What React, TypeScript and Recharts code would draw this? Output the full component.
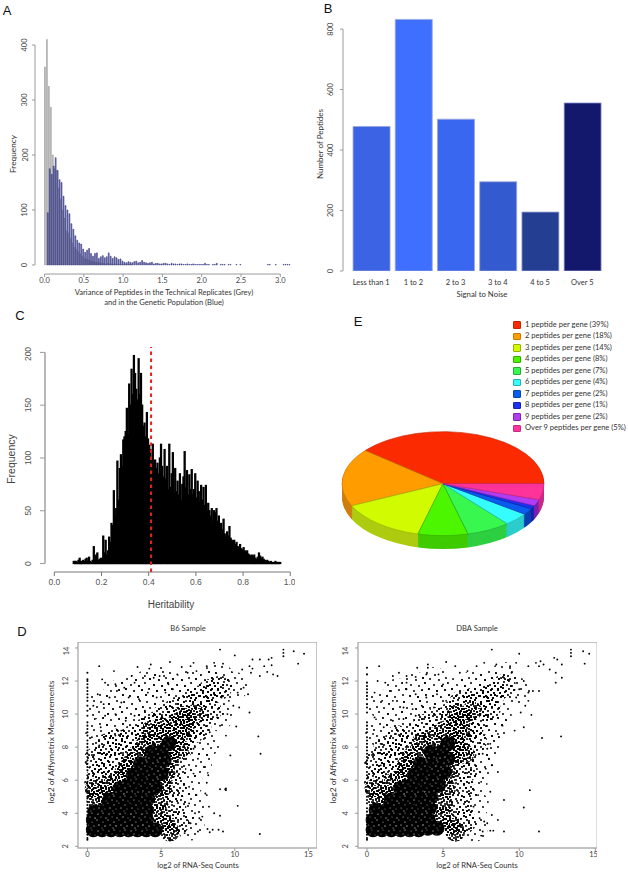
import {
  Bar,
  BarChart,
  Cell,
  Pie,
  PieChart,
  ReferenceArea,
  ReferenceLine,
  Scatter,
  ScatterChart,
  XAxis,
  YAxis,
} from "recharts";

// Panel A: histogram counts, bin width 0.025
const A_BIN = 0.025;
const A_GREY = [
  360, 410, 325, 287, 200, 175, 172, 140, 120, 100, 85, 62, 58, 48, 40, 32, 28, 24, 20, 16, 12, 11, 9, 8, 7, 6, 5, 5, 4,
  3, 3, 2, 3, 2, 2, 1, 2, 1, 1, 1, 1, 1, 1, 1, 1,
];
const A_BLUE = [
  0, 95, 175, 165, 180, 195, 172, 155, 150, 125, 108, 100, 93, 75, 65, 53, 45, 40, 38, 29, 23, 27, 30, 21, 16, 21, 22,
  12, 15, 17, 13, 15, 22, 16, 12, 15, 13, 10, 11, 7, 5, 4, 6, 5, 4, 6, 7, 4, 5, 8, 5, 4, 3, 4, 5, 2, 3, 3, 2, 2, 3, 3,
  2, 1, 3, 2, 2, 1, 2, 2, 1, 1, 2, 1, 1, 2, 1, 1, 1, 1, 1, 3, 1, 1, 0, 1, 1, 3, 0, 1, 1, 1, 0, 1, 1, 0, 0, 1, 0, 1, 0,
  0, 0, 0, 0, 0, 0, 0, 0, 0, 0, 0, 0, 1, 1, 0, 0, 1, 0, 0, 0, 1, 1, 1, 1,
];
const A_X_TICKS = [0, 0.5, 1, 1.5, 2, 2.5, 3];
const A_Y_TICKS = [0, 100, 200, 300, 400];

// Panel B
const B_CATEGORIES = ["Less than 1", "1 to 2", "2 to 3", "3 to 4", "4 to 5", "Over 5"];
const B_VALUES = [478, 832, 502, 295, 195, 556];
const B_COLORS = ["#3b63e3", "#3f6ffe", "#3a67f0", "#345ad0", "#243f92", "#14186c"];
const B_Y_TICKS = [0, 200, 400, 600, 800];

// Panel C: histogram counts, bin width 0.005 starting at 0.08
const C_START = 0.08;
const C_BIN = 0.005;
const C_COUNTS = [
  2, 2, 2, 1, 3, 5, 2, 1, 3, 2, 4, 5, 2, 6, 2, 1, 3, 16, 3, 8, 10, 3, 4, 5, 4, 26, 10, 22, 8, 12, 25, 20, 38, 36, 69,
  45, 52, 97, 60, 90, 103, 92, 117, 120, 125, 147, 122, 170, 150, 184, 160, 197, 180, 165, 155, 194, 160, 180, 150, 130,
  133, 120, 143, 118, 112, 108, 100, 113, 95, 98, 90, 95, 85, 100, 113, 92, 82, 108, 80, 92, 70, 113, 72, 85, 105, 66,
  90, 68, 78, 65, 85, 60, 75, 82, 106, 72, 88, 65, 84, 70, 89, 65, 70, 85, 62, 78, 68, 58, 74, 60, 72, 55, 74, 50, 57,
  50, 45, 52, 40, 50, 48, 52, 40, 45, 36, 38, 32, 42, 28, 25, 30, 26, 35, 24, 22, 20, 22, 18, 20, 16, 15, 18, 14, 13,
  15, 12, 10, 12, 9, 8, 7, 8, 6, 8, 5, 4, 6, 10, 7, 5, 6, 4, 3, 2, 3, 2, 1, 2, 1, 1, 1, 2, 1, 1, 1, 1,
];
const C_MEAN = 0.41;
const C_X_TICKS = [0, 0.2, 0.4, 0.6, 0.8, 1];
const C_Y_TICKS = [0, 50, 100, 150, 200];

// Panel D: log2 counts vs log2 array. Core/dense/light/faint are read-off density regions,
// sparse are the single points that can be picked out.
const D_X_TICKS = [0, 5, 10, 15];
const D_Y_TICKS = [2, 4, 6, 8, 10, 12, 14];
const B6_ZERO_Y = [
  2.4, 2.5, 2.7, 2.9, 3.1, 3.3, 3.5, 3.7, 3.9, 4.1, 4.3, 4.5, 4.7, 4.9, 5.0, 5.3, 5.5, 5.7, 5.9, 6.1, 6.3, 6.6, 6.8,
  7.0, 7.2, 7.4, 7.6, 7.8, 8.0, 8.2, 8.4, 8.7, 8.9, 9.1, 9.3, 9.5, 9.9, 10.2, 10.5, 10.8, 11.0, 11.2, 11.4, 11.6, 11.8,
  12.0, 12.1, 12.5,
];
const B6_CORE = [
  [0.4, 3], [1, 3], [1.6, 3], [2.2, 3], [2.8, 3], [3.4, 3], [4, 3], [4.6, 3],
  [0.4, 3.6], [1, 3.6], [1.6, 3.6], [2.2, 3.6], [2.8, 3.6], [3.4, 3.6], [4, 3.6],
  [0.5, 4.1], [1.2, 4.2], [1.9, 4.2], [2.6, 4.2], [3.3, 4.2], [4, 4.2],
  [1.5, 4.8], [2.1, 4.9], [2.7, 4.9], [3.4, 4.9], [4.1, 4.9], [2.2, 5.5], [2.7, 5.6], [3.4, 5.6], [4.1, 5.6], [4.6, 5.6],
  [3.1, 6.3], [3.8, 6.3], [4.5, 6.3], [5, 6.4], [3.6, 7], [4.2, 7], [4.8, 7], [5.2, 7.2], [4.4, 7.7], [5, 7.7], [5.5, 8.2],
];
const B6_DENSE = [
  [0.6, 4.9], [1.3, 5], [1.4, 5.7], [2.1, 5.9], [2.7, 6.7], [3.3, 7.5], [3.9, 8.1], [4.6, 8.4], [5.3, 8.8], [5.9, 9.3],
  [6.7, 9.7], [7.3, 10], [5.6, 8], [5.5, 7.2], [5.3, 6.4], [5.1, 5.6], [4.9, 4.8], [4.8, 4], [5.3, 3.4], [5.6, 2.9],
  [6.2, 8.7], [6.6, 9.2], [3, 7], [2.4, 6.3], [0.5, 5.5], [6.2, 7.8], [6.4, 9.9], [5, 9.2], [4.3, 9],
];
const B6_LIGHT = [
  [0.6, 6], [1.1, 6.6], [1.7, 7.1], [2.4, 7.9], [3, 8.6], [3.8, 9], [4.5, 9.4], [5.2, 9.9], [6, 10.3], [6.9, 10.7],
  [7.6, 11], [8.3, 11.4], [9, 11.6], [6.3, 7.9], [6.6, 8.4], [7.1, 8.9], [7.6, 9.3], [8.3, 10.2], [5.9, 6.7], [5.9, 5.5],
  [5.9, 4.4], [6.1, 3.4], [0.6, 7.3], [1.3, 8.1], [2, 8.4],
];
const B6_FAINT = [
  [0.8, 8.8], [1.9, 9.5], [3, 10], [4, 10.5], [5, 11], [6, 11.5], [7, 11.8], [0.9, 10.5], [2, 11.2], [3, 11.5], [4, 11.8],
  [5, 12], [8, 12], [9, 12.2], [10, 11.7], [8.6, 10.6], [8.9, 9.8], [8, 8.2], [7.5, 7], [6.9, 5.8], [7, 4.5], [7, 3.2],
];
const B6_SPARSE = [
  [13.3, 13.9], [13.3, 13.7], [13.3, 13.5], [14, 13.8], [14.7, 13.65], [14.3, 13.05], [9, 13.9], [10, 13.55], [0.8, 12.9],
  [1.8, 12.6], [3.4, 12.85], [4.3, 13], [4.2, 12.75], [5.6, 13.15], [6.4, 12.85], [7, 12.9], [7.2, 13.1], [8.1, 12.9],
  [8.6, 13.1], [9.2, 13.05], [10.5, 12.7], [11, 12.9], [11.2, 12.75], [11.1, 12.5], [11.2, 13.3], [11.7, 13.3], [12, 12.9],
  [12.3, 13.3], [12.5, 13.4], [12.5, 12.95], [12.2, 12.55], [12.6, 12.4], [12.9, 12.3], [11.7, 12.3], [1, 12.1], [1.2, 11.9],
  [1.9, 11.8], [2, 11.4], [2.5, 11.6], [3, 12.3], [3.2, 11.9], [3.9, 12.3], [4.5, 12.2], [4.9, 12.3], [5.2, 12.3], [5.5, 11.8],
  [6.1, 12.4], [6.8, 12.5], [7.4, 12.6], [0.4, 10.5], [0.7, 11.2], [1.1, 10.6], [1.5, 11], [2.3, 10.7], [2.8, 11], [3.5, 10.9],
  [4.1, 11.3], [4.7, 11], [5.3, 11.3], [5.8, 11.5], [0.5, 9.7], [0.9, 9.2], [1.2, 9.9], [1.9, 10], [2.6, 9.6], [3.2, 9.9],
  [3.9, 10.2], [0.3, 8.6], [0.8, 8.1], [1.9, 8.7], [2.3, 9], [0.4, 7.4], [8.1, 11.7], [8.6, 11.2], [9.1, 11], [9.6, 10.8], [9.9, 10.5],
  [10.2, 11.3], [10.6, 11.6], [10.9, 11.2], [10.3, 10.4], [11, 10.1], [9.5, 10], [8.8, 9.8], [9, 9.3], [8.3, 8.9], [7.9, 8.5],
  [7.2, 7.9], [7.5, 7.3], [7.9, 6.8], [8.2, 6.3], [7.2, 6.4], [6.9, 5.6], [7.4, 5.1], [6.9, 4.6], [7.3, 4], [6.6, 2.8],
  [7.5, 2.9], [7, 3.4], [11.6, 8.65], [11.75, 7.6], [9.7, 7.5], [10.1, 9.25], [9.4, 8.7], [10.2, 4.45], [11.7, 2.75],
  [9.35, 5.45], [9.4, 5.5], [9.4, 5.4], [9, 5.45], [9, 3.85], [8.6, 4], [8.25, 4.4], [8.1, 5.85], [8, 5.2], [8.1, 5.1],
  [8.15, 3.05], [8.5, 3], [8.9, 3], [9.2, 2.9], [8.3, 2.85], [7.6, 3.7], [7.8, 3.8],
];

const DBA_ZERO_Y = [
  2.4, 2.5, 2.7, 2.9, 3.1, 3.3, 3.5, 3.7, 3.9, 4.1, 4.3, 4.6, 4.8, 5.0, 5.3, 5.6, 5.8, 6.1, 6.3, 6.5, 6.8, 7.0, 7.2,
  7.4, 7.6, 7.8, 8.0, 8.2, 8.4, 8.6, 8.9, 9.1, 9.3, 9.5, 10.1, 10.4, 10.6, 10.9, 11.1, 11.3, 11.5, 11.7, 11.9, 12.4, 12.8,
];
const DBA_CORE = [
  [0.4, 3], [1, 3], [1.6, 3], [2.2, 3], [2.8, 3], [3.4, 3], [4, 3.1], [4.6, 3.1],
  [0.4, 3.6], [1, 3.6], [1.6, 3.6], [2.2, 3.6], [2.8, 3.6], [3.4, 3.6], [4, 3.7],
  [0.6, 4.2], [1.3, 4.2], [2, 4.2], [2.7, 4.2], [3.4, 4.2], [4.1, 4.3],
  [1.6, 4.8], [2.2, 4.9], [2.8, 4.9], [3.5, 4.9], [4.2, 5], [2.2, 5.5], [2.7, 5.6], [3.4, 5.6], [4.1, 5.7], [4.7, 5.7],
  [3.1, 6.3], [3.8, 6.3], [4.5, 6.4], [5.1, 6.5], [3.5, 7], [4.2, 7], [4.9, 7], [5.3, 7.3], [4.2, 7.7], [4.9, 7.7], [5.3, 8.2],
];
const DBA_DENSE = [
  [0.7, 4.8], [1.4, 5], [1.6, 5.8], [2.2, 6.1], [2.6, 6.9], [3.1, 7.6], [3.6, 8.3], [4.4, 8.6], [5.1, 9], [5.8, 9.3],
  [6.3, 9.8], [6.9, 10.2], [5.7, 8.4], [5.6, 7.4], [5.3, 6.4], [5.2, 5.5], [5, 4.6], [5, 3.8], [5.5, 3.3], [5.8, 2.9],
  [6.2, 8.9], [5.9, 8], [3, 7], [2.5, 6.4], [0.5, 5.5], [6.4, 7.6], [5.9, 10],
];
const DBA_LIGHT = [
  [0.6, 5.9], [1.2, 6.6], [1.8, 7.3], [2.4, 8], [3, 8.8], [3.8, 9.3], [4.6, 9.7], [5.6, 10.1], [6.2, 10.7], [7, 10.9],
  [7.7, 11], [8.3, 11.2], [6.8, 9], [7.1, 8.4], [6.4, 7.5], [6.5, 6.6], [6.3, 5.5], [6.2, 4.4], [6.4, 3.5], [7.2, 9.6],
  [8, 10.3], [9, 11.7], [0.6, 7.1], [1.2, 7.9], [2, 8.6],
];
const DBA_FAINT = [
  [0.8, 8.9], [1.8, 9.6], [3, 10.2], [4, 10.7], [5, 11], [6, 11.4], [7, 11.8], [0.9, 10.6], [2, 11.3], [3.2, 11.7], [4.4, 12],
  [8, 11.8], [9, 12.3], [9.8, 11.4], [8.6, 10], [8.4, 9.2], [7.9, 8.2], [7.4, 7], [7, 5.8], [7.1, 4.5], [7, 3.1],
];
const DBA_SPARSE = [
  [13.4, 13.9], [13.4, 13.7], [13.4, 13.5], [14.2, 13.8], [14.6, 13.65], [14.3, 13.05], [8.2, 13.9], [10, 13.65], [0.8, 12.9],
  [3.3, 12.8], [4, 13], [4, 12.8], [5.2, 13.15], [5.8, 12.9], [7.2, 12.9], [7.7, 13.1], [8.5, 13], [9.4, 12.9], [9.8, 13.1],
  [10.6, 12.9], [11.1, 13.1], [11.4, 13.2], [11.6, 13], [12.3, 13.4], [12.5, 13.3], [12.8, 13], [12, 12.7], [12.4, 12.5],
  [12.8, 12.2], [12.4, 11.9], [11.3, 12.9], [1.7, 12.3], [2.1, 12.5], [2.6, 12.3], [2.6, 11.9], [3.2, 12.25], [3.9, 12.4],
  [4.7, 12.4], [5, 11.8], [6.1, 12.5], [6.6, 12.6], [0.7, 12], [1.2, 11.9], [1.5, 11.4], [2.6, 11.5], [3.2, 11.2], [3.9, 11],
  [4.6, 11.2], [5.2, 10.8], [0.5, 11.3], [1, 10.8], [1.7, 10.8], [2.4, 10.4], [3, 10.3], [3.6, 10.5], [4.4, 10.4], [0.5, 9.8],
  [1.1, 9.2], [1.7, 9.6], [2.4, 9.7], [3.2, 9.9], [0.4, 8.8], [0.9, 8.2], [1.9, 8.8], [0.4, 7.6], [0.9, 6.9], [10, 11.5], [10.6, 11.3],
  [9.5, 12.5], [9, 12.2], [10.3, 12], [10.9, 11.4], [11.3, 11.4], [9.8, 11], [10.6, 10.8], [10.4, 10.5], [10.1, 10.1], [10.8, 9.95],
  [10.3, 9.2], [9.7, 9], [8.9, 9.3], [8.6, 8.8], [8.1, 8.2], [7.9, 7.9], [7.6, 7.6], [8, 7.3], [8.2, 6.9], [7.8, 6.7], [8.6, 6.5],
  [7.5, 5.9], [8.1, 5.3], [7.3, 5.1], [7, 4.4], [7.4, 3.7], [7.7, 3.5], [8.2, 3.9], [8.6, 3.6], [11.5, 8.55], [12.75, 8.65],
  [10.7, 5.4], [10.3, 4.35], [11.3, 2.9], [9, 4.8], [9, 2.9], [8.3, 2.95], [8.1, 2.95], [7.6, 2.9], [7.5, 2.65], [7.9, 3.4],
];

// Panel E
const E_NAMES = [
  "1 peptide per gene (39%)",
  "2 peptides per gene (18%)",
  "3 peptides per gene (14%)",
  "4 peptides per gene (8%)",
  "5 peptides per gene (7%)",
  "6 peptides per gene (4%)",
  "7 peptides per gene (2%)",
  "8 peptides per gene (1%)",
  "9 peptides per gene (2%)",
  "Over 9 peptides per gene (5%)",
];
const E_VALUES = [39, 18, 14, 8, 7, 4, 2, 1, 2, 5];
const E_TOP = ["#fb2a00", "#ff9c00", "#d0fb00", "#4cf500", "#38f850", "#36fdfd", "#0a5cf0", "#1c32f0", "#b23cf2", "#ff3399"];
const E_SIDE = ["#b32000", "#d07f10", "#aecb10", "#3fcb00", "#2dd040", "#2ccccc", "#0a40b0", "#1422b0", "#7a20b0", "#c92a88"];
const E_EDGE = ["#c42200", "#c07a08", "#98b000", "#35a800", "#25a838", "#28b0b0", "#0a44a8", "#1424a8", "#8024b0", "#c82a80"];
const E_LAYERS = [26, 24, 22, 20, 18, 16, 14, 12, 10, 8, 6, 4, 2];

const AXIS = "#9a9a9a";
const MYRIAD = "Lato, 'Open Sans', sans-serif";
const HELV = "'Liberation Sans', Arial, sans-serif";

const histA = A_BLUE.map((blue, i) => ({ x: (i + 0.5) * A_BIN, blue, grey: A_GREY[i] ?? 0 }));
const histC = C_COUNTS.map((count, i) => ({ x: C_START + (i + 0.5) * C_BIN, count }));
const barsB = B_VALUES.map((value, i) => ({ x: i + 1, value }));
const pieData = E_VALUES.map((value, i) => ({ name: E_NAMES[i], value }));
const pts = (rows: number[][]) => rows.map(([x, y]) => ({ x, y }));
const zeros = (ys: number[]) => ys.map((y) => ({ x: 0, y }));

function Txt({ x, y, rot = 0, size, font = MYRIAD, color = "#333", children }: any) {
  return (
    <div
      style={{
        position: "absolute",
        left: x,
        top: y,
        transform: `translate(-50%,-50%) rotate(${rot}deg)`,
        fontSize: size,
        fontFamily: font,
        color,
        whiteSpace: "nowrap",
        lineHeight: 1,
      }}
    >
      {children}
    </div>
  );
}

// R draws its y tick labels turned by 90 degrees
const rotTick = (size: number, font: string, color: string, dist: number) => (p: any) => (
  <text
    x={p.x - dist}
    y={p.y}
    transform={`rotate(-90 ${p.x - dist} ${p.y})`}
    textAnchor="middle"
    fontSize={size}
    fontFamily={font}
    fill={color}
  >
    {p.payload.value}
  </text>
);

const dot = (r: number, fill: string) => (p: any) => <circle cx={p.cx} cy={p.cy} r={r} fill={fill} />;

// speckle tiles with coprime sizes, layered over each other so the repeat doesn't show
const TILE_A = [[1, 1], [4, 0], [7, 2], [10, 1], [12, 3], [2, 4], [5, 3], [8, 5], [11, 6], [0, 6], [3, 7], [6, 6], [9, 8], [1, 9], [5, 9], [12, 9], [7, 10]];
const TILE_B = [[2, 2], [7, 1], [13, 3], [5, 5], [10, 6], [16, 7], [1, 8], [7, 9], [13, 10], [3, 12], [9, 13], [15, 13], [6, 15], [12, 16], [1, 16], [16, 17], [8, 18], [3, 18]];
const TILE_C = [[3, 2], [11, 4], [19, 1], [6, 8], [15, 9], [22, 7], [1, 12], [10, 14], [18, 15], [5, 18], [13, 20], [21, 19], [2, 24], [9, 25], [17, 26]];
const FLECKS = [[2, 2], [7, 1], [5, 5], [10, 6], [1, 8], [7, 10], [3, 13], [9, 14], [6, 16]];

function Speckles({ id }: { id: string }) {
  const tile = (name: string, w: number, h: number, rows: number[][], r: number, fill = "#000") => (
    <pattern id={`${id}-${name}`} patternUnits="userSpaceOnUse" width={w} height={h}>
      {rows.map(([cx, cy]) => (
        <circle key={`${cx}-${cy}`} cx={cx} cy={cy} r={r} fill={fill} />
      ))}
    </pattern>
  );
  return (
    <defs>
      {tile("a", 13, 11, TILE_A, 1.1)}
      {tile("b", 17, 19, TILE_B, 1.05)}
      {tile("c", 23, 29, TILE_C, 1)}
      {tile("fleck", 11, 17, FLECKS, 0.45, "#fff")}
    </defs>
  );
}

function Expression({ left, width, domainX, id, zeroY, core, dense, light, faint, sparse }: any) {
  const domainY = [1.9, 14.36];
  return (
    <div style={{ position: "absolute", left: left - 26, top: 641.7 }}>
      <ScatterChart width={width + 26} height={226} margin={{ top: 0, right: 0, bottom: 0, left: 0 }}>
        <Speckles id={id} />
        <XAxis
          type="number"
          dataKey="x"
          domain={domainX}
          ticks={D_X_TICKS}
          allowDataOverflow
          height={20}
          stroke={AXIS}
          axisLine={false}
          tickSize={3}
          tickMargin={1}
          tick={{ fontSize: 7.5, fontFamily: MYRIAD, fill: "#444" }}
        />
        <YAxis
          type="number"
          dataKey="y"
          domain={domainY}
          ticks={D_Y_TICKS}
          allowDataOverflow
          width={26}
          stroke={AXIS}
          axisLine={false}
          tickSize={3}
          tick={rotTick(7.5, MYRIAD, "#444", 4.5)}
        />
        <ReferenceArea
          x1={domainX[0]}
          x2={domainX[1]}
          y1={domainY[0]}
          y2={domainY[1]}
          fill="none"
          stroke="#b0b0b0"
          strokeWidth={1.4}
          fillOpacity={0}
        />
        <Scatter data={pts(faint)} isAnimationActive={false} shape={dot(14, `url(#${id}-c)`)} />
        <Scatter data={pts(light)} isAnimationActive={false} shape={dot(12, `url(#${id}-c)`)} />
        <Scatter data={pts(light)} isAnimationActive={false} shape={dot(12, `url(#${id}-b)`)} />
        <Scatter data={pts(dense)} isAnimationActive={false} shape={dot(10, `url(#${id}-c)`)} />
        <Scatter data={pts(dense)} isAnimationActive={false} shape={dot(10, `url(#${id}-b)`)} />
        <Scatter data={pts(dense)} isAnimationActive={false} shape={dot(10, `url(#${id}-a)`)} />
        <Scatter data={pts(core)} isAnimationActive={false} shape={dot(7.5, "#000")} />
        <Scatter data={pts(core)} isAnimationActive={false} shape={dot(7.5, `url(#${id}-fleck)`)} />
        <Scatter data={pts(sparse)} isAnimationActive={false} shape={dot(0.95, "#000")} />
        <Scatter data={zeros(zeroY)} isAnimationActive={false} shape={dot(1.05, "#000")} />
      </ScatterChart>
    </div>
  );
}

export default function App() {
  return (
    <div style={{ position: "absolute", left: 0, top: 0, width: 628, height: 873, background: "#fff", overflow: "hidden" }}>
      <Txt x={7} y={10} size={13} font={HELV} color="#111">A</Txt>
      <Txt x={328} y={8} size={13} font={HELV} color="#111">B</Txt>
      <Txt x={20} y={315} size={13} font={HELV} color="#111">C</Txt>
      <Txt x={22} y={631} size={13} font={HELV} color="#111">D</Txt>
      <Txt x={358} y={321} size={13} font={HELV} color="#111">E</Txt>

      {/* A */}
      <div style={{ position: "absolute", left: 9, top: 36 }}>
        <BarChart width={283} height={254} data={histA} margin={{ top: 0, right: 0, bottom: 0, left: 0 }} barGap={-2.0} barSize={2.0}>
          <XAxis
            type="number"
            dataKey="x"
            domain={[-0.121, 3.149]}
            ticks={A_X_TICKS}
            allowDataOverflow
            height={16}
            stroke={AXIS}
            axisLine={false}
            tickSize={3}
            tickMargin={1}
            tickFormatter={(v: number) => v.toFixed(1)}
            tick={{ fontSize: 7.5, fontFamily: MYRIAD, fill: "#444" }}
          />
          <YAxis
            type="number"
            domain={[-16.4, 416.4]}
            ticks={A_Y_TICKS}
            allowDataOverflow
            width={26}
            stroke={AXIS}
            axisLine={false}
            tickSize={3}
            tick={rotTick(7.5, MYRIAD, "#444", 2.5)}
          />
          <ReferenceLine segment={[{ x: -0.121, y: 0 }, { x: -0.121, y: 400 }]} stroke={AXIS} ifOverflow="visible" />
          <ReferenceLine segment={[{ x: 0, y: -16.4 }, { x: 3, y: -16.4 }]} stroke={AXIS} ifOverflow="visible" />
          <Bar dataKey="grey" fill="#c4c4c4" stroke="#9a9a9a" strokeWidth={0.6} isAnimationActive={false} />
          <Bar dataKey="blue" fill="#5254a8" fillOpacity={0.8} stroke="#34387f" strokeWidth={0.6} isAnimationActive={false} />
        </BarChart>
      </div>
      <Txt x={13} y={154} rot={-90} size={8.3}>Frequency</Txt>
      <Txt x={164} y={293} size={7.6}>Variance of Peptides in the Technical Replicates (Grey)</Txt>
      <Txt x={164} y={303} size={7.6}>and in the Genetic Population (Blue)</Txt>

      {/* B */}
      <div style={{ position: "absolute", left: 317, top: 17 }}>
        <BarChart width={299} height={272} data={barsB} margin={{ top: 0, right: 0, bottom: 0, left: 0 }} barSize={37}>
          <XAxis
            type="number"
            dataKey="x"
            domain={[0.333, 6.8]}
            ticks={[1, 2, 3, 4, 5, 6]}
            allowDataOverflow
            height={18}
            axisLine={false}
            tickLine={false}
            tickMargin={3}
            tickFormatter={(v: number) => B_CATEGORIES[v - 1]}
            tick={{ fontSize: 7.5, fontFamily: MYRIAD, fill: "#333" }}
          />
          <YAxis
            type="number"
            domain={[0, 840]}
            ticks={B_Y_TICKS}
            allowDataOverflow
            width={26}
            stroke={AXIS}
            axisLine={false}
            tickSize={3}
            tick={rotTick(7.5, MYRIAD, "#444", 5)}
          />
          <ReferenceLine segment={[{ x: 0.333, y: 0 }, { x: 0.333, y: 800 }]} stroke={AXIS} ifOverflow="visible" />
          <Bar dataKey="value" stroke="#9aa6d8" strokeWidth={0.8} isAnimationActive={false}>
            {B_VALUES.map((_, i) => (
              <Cell key={i} fill={B_COLORS[i]} />
            ))}
          </Bar>
        </BarChart>
      </div>
      <Txt x={320} y={144} rot={-90} size={8}>Number of Peptides</Txt>
      <Txt x={482} y={294.5} size={7.8}>Signal to Noise</Txt>

      {/* C */}
      <div style={{ position: "absolute", left: 17, top: 345 }}>
        <BarChart width={278} height={252} data={histC} margin={{ top: 0, right: 0, bottom: 0, left: 0 }} barSize={2}>
          <XAxis
            type="number"
            dataKey="x"
            domain={[-0.0396, 1.02]}
            ticks={C_X_TICKS}
            allowDataOverflow
            height={25}
            stroke="#777"
            axisLine={false}
            tickSize={4}
            tickMargin={3}
            tickFormatter={(v: number) => v.toFixed(1)}
            tick={{ fontSize: 8.5, fontFamily: HELV, fill: "#555" }}
          />
          <YAxis
            type="number"
            domain={[-8, 207]}
            ticks={C_Y_TICKS}
            allowDataOverflow
            width={28}
            stroke={AXIS}
            axisLine={false}
            tickSize={5}
            tick={rotTick(8.5, HELV, "#555", 7)}
          />
          <ReferenceLine segment={[{ x: -0.0396, y: 0 }, { x: -0.0396, y: 200 }]} stroke={AXIS} strokeWidth={1.4} ifOverflow="visible" />
          <ReferenceLine segment={[{ x: 0, y: -8 }, { x: 1, y: -8 }]} stroke="#777" ifOverflow="visible" />
          <Bar dataKey="count" fill="#000" stroke="#000" strokeWidth={1.2} isAnimationActive={false} />
          <ReferenceLine
            segment={[{ x: C_MEAN, y: -8 }, { x: C_MEAN, y: 205 }]}
            stroke="#e2231a"
            strokeWidth={2}
            strokeDasharray="3.5 3.5"
            ifOverflow="visible"
          />
        </BarChart>
      </div>
      <Txt x={11} y={459} rot={-90} size={10.5} font={HELV} color="#444">Frequency</Txt>
      <Txt x={171} y={605} size={10} font={HELV} color="#444">Heritability</Txt>

      {/* E: flat pie squashed, the rim is the same pie repeated below in a darker tone */}
      <div style={{ position: "absolute", left: 313, top: 427.4, transform: "scaleY(0.515)", transformOrigin: "0 0" }}>
        <PieChart width={260} height={270} margin={{ top: 0, right: 0, bottom: 0, left: 0 }}>
          {E_LAYERS.map((dy) => (
            <Pie
              key={dy}
              data={pieData}
              dataKey="value"
              cx={130}
              cy={110 + dy}
              outerRadius={101}
              startAngle={0}
              endAngle={360}
              stroke="none"
              isAnimationActive={false}
            >
              {E_SIDE.map((c, i) => (
                <Cell key={i} fill={c} />
              ))}
            </Pie>
          ))}
          <Pie
            data={pieData}
            dataKey="value"
            cx={130}
            cy={110}
            outerRadius={101}
            startAngle={0}
            endAngle={360}
            isAnimationActive={false}
          >
            {E_TOP.map((c, i) => (
              <Cell key={i} fill={c} stroke={E_EDGE[i]} strokeWidth={0.8} />
            ))}
          </Pie>
        </PieChart>
      </div>
      {E_NAMES.map((name, i) => (
        <div key={name}>
          <div
            style={{
              position: "absolute",
              left: 513,
              top: 321 + i * 11.55,
              width: 5.5,
              height: 5.5,
              background: E_TOP[i],
              border: `1px solid ${E_EDGE[i]}`,
              borderRadius: 1,
            }}
          />
          <div
            style={{
              position: "absolute",
              left: 525,
              top: 324.5 + i * 11.55,
              transform: "translateY(-50%)",
              fontSize: 7.6,
              fontFamily: MYRIAD,
              color: "#333",
              whiteSpace: "nowrap",
              lineHeight: 1,
            }}
          >
            {name}
          </div>
        </div>
      ))}

      {/* D */}
      <Txt x={188} y={629} size={7.6}>B6 Sample</Txt>
      <Txt x={477} y={629} size={7.6}>DBA Sample</Txt>
      <Expression
        left={78.3}
        width={239}
        domainX={[-0.64, 15.58]}
        id="b6"
        zeroY={B6_ZERO_Y}
        core={B6_CORE}
        dense={B6_DENSE}
        light={B6_LIGHT}
        faint={B6_FAINT}
        sparse={B6_SPARSE}
      />
      <Expression
        left={357.7}
        width={239.3}
        domainX={[-0.59, 15.13]}
        id="dba"
        zeroY={DBA_ZERO_Y}
        core={DBA_CORE}
        dense={DBA_DENSE}
        light={DBA_LIGHT}
        faint={DBA_FAINT}
        sparse={DBA_SPARSE}
      />
      <Txt x={51} y={742} rot={-90} size={8.4}>log2 of Affymetrix Measurements</Txt>
      <Txt x={333} y={742} rot={-90} size={8.4}>log2 of Affymetrix Measurements</Txt>
      <Txt x={198} y={866} size={7.6}>log2 of RNA-Seq Counts</Txt>
      <Txt x={477} y={866} size={7.6}>log2 of RNA-Seq Counts</Txt>
    </div>
  );
}
